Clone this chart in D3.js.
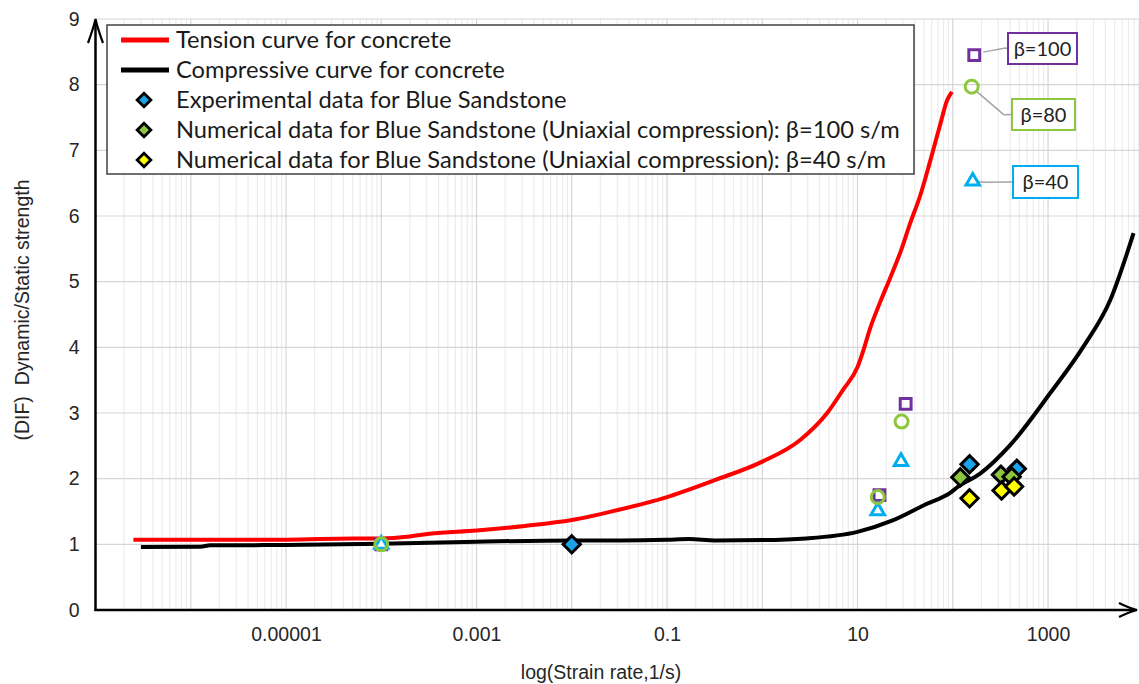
<!DOCTYPE html>
<html>
<head>
<meta charset="utf-8">
<script src="https://cdn.jsdelivr.net/npm/d3@7"></script>
<style>
  body { margin: 0; background: #fff; }
  svg { display: block; }
</style>
</head>
<body>
<svg id="chart" width="1139" height="684"></svg>
<script>
// ---- data ----------------------------------------------------------------
const xTickRates  = [1e-5, 1e-3, 1e-1, 10, 1000];
const xTickLabels = ["0.00001", "0.001", "0.1", "10", "1000"];
const yTickValues = [0, 1, 2, 3, 4, 5, 6, 7, 8, 9];

// Tension DIF curve for concrete
const tensionRate = [2.5e-7, 1e-5, 5e-5, 1e-4, 2e-4, 3.2e-4, 1e-3, 3.2e-3, 1e-2, 3.2e-2, 0.1, 0.32,
                     1, 2.5, 4.8, 7.1, 10, 11.5, 13.5, 17.4, 21.9, 28.2, 35.5, 45.7, 57.5, 74, 87, 98];
const tensionDIF  = [1.07, 1.07, 1.09, 1.09, 1.12, 1.16, 1.21, 1.28, 1.37, 1.53, 1.72, 1.98,
                     2.26, 2.59, 3.0, 3.36, 3.70, 3.95, 4.28, 4.70, 5.05, 5.45, 5.88, 6.32, 6.82, 7.40, 7.76, 7.89];

// Compressive DIF curve for concrete
const compRate = [3e-7, 1.26e-6, 1.6e-6, 1e-5, 1e-4, 1e-3, 1e-2, 3.2e-2, 0.1, 0.17, 0.32, 1,
                  2.9, 10, 23, 52, 93, 112, 195, 400, 1050, 2350, 4500, 7900];
const compDIF  = [0.96, 0.965, 0.985, 0.99, 1.01, 1.04, 1.06, 1.06, 1.07, 1.08, 1.06, 1.065,
                  1.09, 1.19, 1.36, 1.61, 1.78, 1.87, 2.08, 2.51, 3.30, 4.01, 4.72, 5.74];

// Blue Sandstone: experimental and numerical (uniaxial compression) results
const expRate   = [0.01, 150, 470];
const expDIF    = [1.0, 2.22, 2.15];
const num100Rate = [120, 320, 415];
const num100DIF  = [2.02, 2.06, 2.03];
const num40Rate  = [150, 325, 440];
const num40DIF   = [1.70, 1.82, 1.88];

// Numerical results for different beta values
const beta100Rate = [1e-4, 17, 32, 168];
const beta100DIF  = [1.0, 1.75, 3.14, 8.45];
const beta80Rate  = [1e-4, 16.3, 29, 158];
const beta80DIF   = [1.0, 1.72, 2.87, 7.97];
const beta40Rate  = [1e-4, 16.3, 28.6, 162];
const beta40DIF   = [1.0, 1.51, 2.26, 6.53];

const legendLabels = [
  "Tension curve for concrete",
  "Compressive curve for concrete",
  "Experimental data for Blue Sandstone",
  "Numerical data for Blue Sandstone (Uniaxial compression): \u03b2=100 s/m",
  "Numerical data for Blue Sandstone (Uniaxial compression): \u03b2=40 s/m"
];
const betaLabels = ["\u03b2=100", "\u03b2=80", "\u03b2=40"];

// ---- styles ----------------------------------------------------------------
const C = {
  red: "#ff0000", black: "#000000",
  blue: "#1aa3e8", green: "#8cc63f", yellow: "#ffff00",
  purple: "#7030a0", lgreen: "#8dc63f", cyan: "#00aeef",
  gridMajor: "#d6d6d6", gridMinor: "#ececec", text: "#262626"
};
const axisFont = "'Liberation Sans', Arial, sans-serif";
const legendFont = "Lato, 'Noto Sans', sans-serif";

const svg = d3.select("#chart");
const W = 1139, H = 684;

const x = d3.scaleLog().domain([1e-7, 1e4]).range([95.5, 1143.3]);
const y = d3.scaleLinear().domain([0, 9]).range([610, 19]);

const zip = (xs, ys) => xs.map((v, i) => [v, ys[i]]);

// ---- grid ----------------------------------------------------------------
const grid = svg.append("g");
const allTicks = x.ticks(12).filter(t => x(t) <= W && t > 1e-7);
grid.selectAll("line.v").data(allTicks).join("line")
  .attr("x1", d => x(d)).attr("x2", d => x(d))
  .attr("y1", y(9)).attr("y2", y(0))
  .attr("stroke", d => Math.abs(Math.log10(d) - Math.round(Math.log10(d))) < 1e-9 ? C.gridMajor : C.gridMinor)
  .attr("stroke-width", 1.2);
grid.selectAll("line.h").data(yTickValues.slice(1)).join("line")
  .attr("x1", x(1e-7)).attr("x2", W)
  .attr("y1", d => y(d)).attr("y2", d => y(d))
  .attr("stroke", C.gridMajor).attr("stroke-width", 1.2);

// ---- curves ----------------------------------------------------------------
const line = d3.line().x(d => x(d[0])).y(d => y(d[1])).curve(d3.curveMonotoneX);
svg.append("path").datum(zip(compRate, compDIF))
  .attr("d", line).attr("fill", "none").attr("stroke", C.black).attr("stroke-width", 4);
svg.append("path").datum(zip(tensionRate, tensionDIF))
  .attr("d", line).attr("fill", "none").attr("stroke", C.red).attr("stroke-width", 4);

// ---- annotation connectors ---------------------------------------------------
const notes = [
  { label: betaLabels[0], color: C.purple, at: [beta100Rate[3], beta100DIF[3]], box: [1008, 33, 69, 31],
    path: [[9, -3], [31, -7]] },
  { label: betaLabels[1], color: C.lgreen, at: [beta80Rate[3], beta80DIF[3]], box: [1012, 99, 63, 31],
    path: [[4, 4], [32, 28]] },
  { label: betaLabels[2], color: C.cyan, at: [beta40Rate[3], beta40DIF[3]], box: [1013, 166, 65, 32],
    path: [[3, 0], [10, 1]] }
];
notes.forEach(n => {
  const mx = x(n.at[0]), my = y(n.at[1]);
  const pts = n.path.map(p => [mx + p[0], my + p[1]]);
  pts.push([n.box[0], n.box[1] + n.box[3] / 2]);
  svg.append("path").attr("d", d3.line()(pts))
    .attr("fill", "none").attr("stroke", "#a6a6a6").attr("stroke-width", 1.5);
});

// ---- markers ----------------------------------------------------------------
const diamond = d3.symbol().type(d3.symbolDiamond2).size(190);
const square = d3.symbol().type(d3.symbolSquare2).size(150);
const triangle = d3.symbol().type(d3.symbolTriangle2).size(130);

function openMarkers(rates, difs, sym, color, fill) {
  svg.append("g").selectAll("path").data(zip(rates, difs)).join("path")
    .attr("transform", d => `translate(${x(d[0])},${y(d[1])})`)
    .attr("d", sym).attr("fill", fill).attr("stroke", color).attr("stroke-width", 3);
}
openMarkers(beta100Rate, beta100DIF, square, C.purple, "none");
openMarkers(beta40Rate, beta40DIF, triangle, C.cyan, "#fff");
svg.append("g").selectAll("circle").data(zip(beta80Rate, beta80DIF)).join("circle")
  .attr("cx", d => x(d[0])).attr("cy", d => y(d[1])).attr("r", 6.5)
  .attr("fill", "none").attr("stroke", C.lgreen).attr("stroke-width", 3);

function diamonds(rates, difs, fill) {
  svg.append("g").selectAll("path").data(zip(rates, difs)).join("path")
    .attr("transform", d => `translate(${x(d[0])},${y(d[1])})`)
    .attr("d", diamond).attr("fill", fill).attr("stroke", "#000").attr("stroke-width", 3)
    .attr("stroke-linejoin", "miter");
}
diamonds(expRate, expDIF, C.blue);
diamonds(num100Rate, num100DIF, C.green);
diamonds(num40Rate, num40DIF, C.yellow);

// ---- annotation boxes ---------------------------------------------------------
notes.forEach(n => {
  svg.append("rect").attr("x", n.box[0]).attr("y", n.box[1])
    .attr("width", n.box[2]).attr("height", n.box[3])
    .attr("fill", "#fff").attr("stroke", n.color).attr("stroke-width", 2);
  svg.append("text").attr("x", n.box[0] + n.box[2] / 2).attr("y", n.box[1] + n.box[3] / 2)
    .attr("dy", "0.36em").attr("text-anchor", "middle")
    .attr("font-family", legendFont).attr("font-size", 20).attr("fill", "#222")
    .text(n.label);
});

// ---- legend ----------------------------------------------------------------
const lg = svg.append("g");
lg.append("rect").attr("x", 107).attr("y", 25).attr("width", 807).attr("height", 149)
  .attr("fill", "#fff").attr("stroke", "#404040").attr("stroke-width", 1.5);
const rowY = [40, 70, 100, 130, 160];
lg.append("line").attr("x1", 121).attr("x2", 169).attr("y1", rowY[0]).attr("y2", rowY[0])
  .attr("stroke", C.red).attr("stroke-width", 5);
lg.append("line").attr("x1", 121).attr("x2", 169).attr("y1", rowY[1]).attr("y2", rowY[1])
  .attr("stroke", C.black).attr("stroke-width", 5);
const legendDiamond = d3.symbol().type(d3.symbolDiamond2).size(120);
[C.blue, C.green, C.yellow].forEach((c, i) => {
  lg.append("path").attr("transform", `translate(144,${rowY[i + 2]})`)
    .attr("d", legendDiamond).attr("fill", c).attr("stroke", "#000").attr("stroke-width", 2.8);
});
const legendTexts = lg.selectAll("text").data(legendLabels).join("text")
  .attr("x", 176).attr("y", (d, i) => rowY[i]).attr("dy", "0.35em")
  .attr("font-family", legendFont).attr("font-size", 22).attr("fill", "#1a1a1a")
  .text(d => d);
// scale the legend font so the longest entry ends near the frame
const longest = d3.max(legendTexts.nodes(), n => n.getComputedTextLength());
const fitSize = 22 * 724 / longest;
legendTexts.attr("font-size", fitSize);

// ---- axes ----------------------------------------------------------------
const xAxis = d3.axisBottom(x).tickValues(xTickRates)
  .tickFormat((d, i) => xTickLabels[i]).tickSize(0).tickPadding(17);
const gx = svg.append("g").attr("transform", `translate(0,${y(0)})`).call(xAxis);
gx.select(".domain").remove();
gx.selectAll("text").attr("font-family", axisFont).attr("font-size", 19.5).attr("fill", C.text);

const yAxis = d3.axisLeft(y).tickValues(yTickValues).tickFormat(d3.format("d"))
  .tickSize(0).tickPadding(16);
const gy = svg.append("g").attr("transform", `translate(${x(1e-7)},0)`).call(yAxis);
gy.select(".domain").remove();
gy.selectAll("text").attr("font-family", axisFont).attr("font-size", 19.5).attr("fill", C.text);

// axis lines with open arrowheads
const x0 = x(1e-7), yb = y(0);
svg.append("line").attr("x1", x0).attr("x2", x0).attr("y1", yb + 1).attr("y2", 20)
  .attr("stroke", "#000").attr("stroke-width", 2.5);
svg.append("line").attr("x1", x0 - 1).attr("x2", 1135).attr("y1", yb).attr("y2", yb)
  .attr("stroke", "#000").attr("stroke-width", 2.5);
svg.append("path").attr("d", `M${x0 - 7.5},${43} Q${x0 - 2},${28} ${x0},${19} Q${x0 + 2},${28} ${x0 + 7.5},${43}`)
  .attr("fill", "none").attr("stroke", "#000").attr("stroke-width", 2.2);
svg.append("path").attr("d", `M1119,${yb - 7} Q1129,${yb - 2} 1137,${yb} Q1129,${yb + 2} 1119,${yb + 7}`)
  .attr("fill", "none").attr("stroke", "#000").attr("stroke-width", 2.2);

// axis titles
svg.append("text").attr("x", 601).attr("y", 672).attr("dy", "0.35em")
  .attr("text-anchor", "middle").attr("font-family", axisFont).attr("font-size", 19.5)
  .attr("fill", C.text).text("log(Strain rate,1/s)");
svg.append("text").attr("transform", "translate(22,310) rotate(-90)").attr("dy", "0.35em")
  .attr("text-anchor", "middle").attr("font-family", axisFont).attr("font-size", 19.5)
  .attr("fill", C.text).attr("xml:space", "preserve").text("(DIF)  Dynamic/Static strength");
</script>
</body>
</html>
